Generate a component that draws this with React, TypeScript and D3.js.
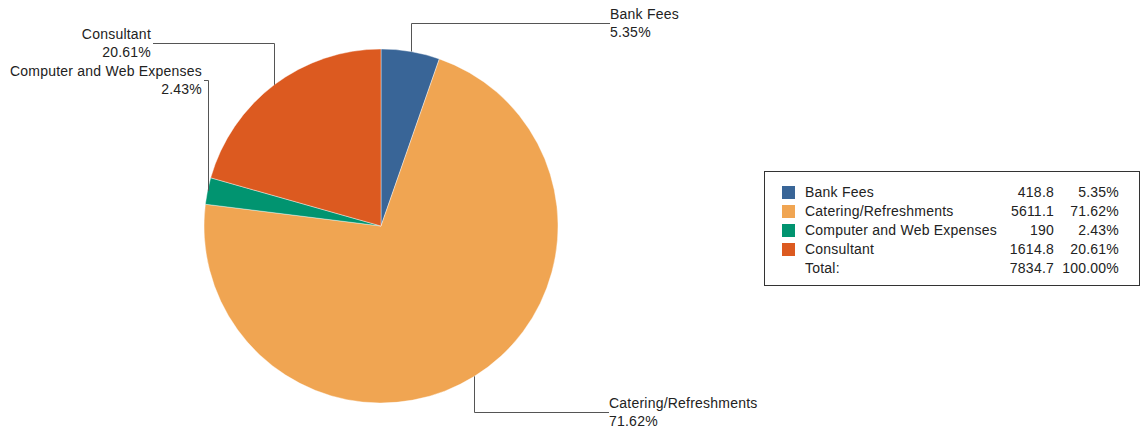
import React from "react";
import * as d3 from "d3";

const categories = ["Bank Fees", "Catering/Refreshments", "Computer and Web Expenses", "Consultant"];
const values = [418.8, 5611.1, 190, 1614.8];
const percents = ["5.35%", "71.62%", "2.43%", "20.61%"];
const totalLabel = "Total:";
const totalValue = "7834.7";
const totalPercent = "100.00%";
const colors = ["#396597", "#F0A552", "#019470", "#DC5A20"];

// leader layout: elbow y and horizontal end x per slice
const elbowY = [23, 412, 80, 43];
const lineEndX = [610, 609, 204, 153];

const W = 1141, H = 436;
const cx = 381, cy = 226, R = 177;
const FONT = "'Liberation Sans', Arial, sans-serif";
const FS = 14;
const LS = 0.22;

export default function App() {
  const pie = d3.pie<number>().sort(null).value((d) => d)(values);
  const arc = d3.arc<d3.PieArcDatum<number>>().innerRadius(0).outerRadius(R);
  const rows = categories.map((c, i) => ({ c, v: String(values[i]), p: percents[i], col: colors[i] }));
  const legendY = d3.scaleLinear().domain([0, 1]).range([197, 216]);

  return (
    <svg width={W} height={H} style={{ position: "absolute", left: 0, top: 0, fontFamily: FONT }}>
      <rect width={W} height={H} fill="#fff" />
      <g transform={`translate(${cx},${cy})`}>
        {pie.map((p, i) => (
          <path key={i} d={arc(p) || ""} fill={colors[i]} stroke="#fff" strokeWidth={0.4} />
        ))}
      </g>
      {pie.map((p, i) => {
        const mid = (p.startAngle + p.endAngle) / 2;
        const x = Math.round(cx + R * Math.sin(mid)) + 0.5;
        const y = cy - R * Math.cos(mid);
        const ey = elbowY[i] + 0.5;
        const ex = lineEndX[i];
        const right = ex > x;
        const tx = right ? ex : ex - 2;
        return (
          <g key={i} fontSize={FS} letterSpacing={LS} fill="#222">
            <path d={`M${x},${y}V${ey}H${ex}`} fill="none" stroke="#555" strokeWidth={1} />
            <text x={tx} y={elbowY[i] - 4} textAnchor={right ? "start" : "end"}>
              {categories[i]}
            </text>
            <text x={tx} y={elbowY[i] + 13.5} textAnchor={right ? "start" : "end"}>
              {percents[i]}
            </text>
          </g>
        );
      })}
      <rect x={764.5} y={171.5} width={375} height={114} fill="#fff" stroke="#333" strokeWidth={1} />
      {rows.map((r, i) => (
        <g key={i} fontSize={FS} letterSpacing={LS} fill="#222">
          <rect x={782} y={legendY(i) - 11} width={13} height={13} fill={r.col} />
          <text x={805} y={legendY(i)}>{r.c}</text>
          <text x={1054} y={legendY(i)} textAnchor="end">{r.v}</text>
          <text x={1119} y={legendY(i)} textAnchor="end">{r.p}</text>
        </g>
      ))}
      <g fontSize={FS} letterSpacing={LS} fill="#222">
        <text x={805} y={legendY(4)}>{totalLabel}</text>
        <text x={1054} y={legendY(4)} textAnchor="end">{totalValue}</text>
        <text x={1119} y={legendY(4)} textAnchor="end">{totalPercent}</text>
      </g>
    </svg>
  );
}
